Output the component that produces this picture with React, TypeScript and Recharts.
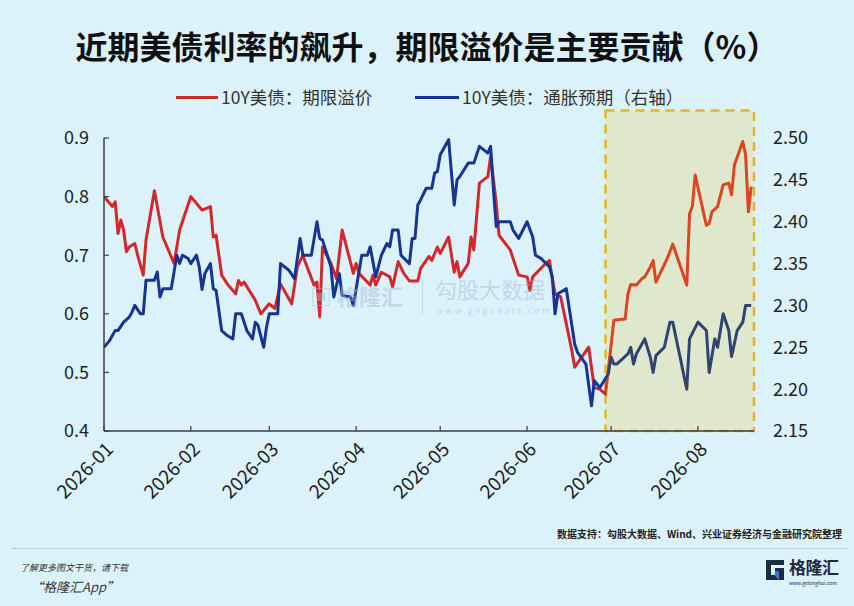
import { LineChart, Line, XAxis, YAxis, ReferenceArea } from "recharts";

const YEAR = 2026;

// month ticks on the x axis
const monthLabels = ["2026-01", "2026-02", "2026-03", "2026-04", "2026-05", "2026-06", "2026-07", "2026-08"];

// 10Y美债：期限溢价 (left axis)
const premiumDates = [
    "01-01", "01-04", "01-05", "01-06", "01-07", "01-08", "01-09", "01-10", "01-12", "01-13",
    "01-15", "01-16", "01-19", "01-22", "01-26", "01-28", "02-01", "02-05", "02-08", "02-09",
    "02-10", "02-12", "02-14", "02-17", "02-18", "02-19", "02-20", "02-24", "02-26", "03-01",
    "03-03", "03-05", "03-09", "03-11", "03-13", "03-14", "03-17", "03-18", "03-19", "03-20",
    "03-23", "03-25", "03-27", "03-31", "04-01", "04-02", "04-06", "04-07", "04-08", "04-10",
    "04-13", "04-14", "04-16", "04-18", "04-20", "04-23", "04-24", "04-27", "04-28", "04-30",
    "05-01", "05-04", "05-06", "05-07", "05-08", "05-11", "05-12", "05-13", "05-15", "05-18",
    "05-19", "05-21", "05-22", "05-26", "05-29", "06-01", "06-02", "06-03", "06-07", "06-09",
    "06-10", "06-11", "06-13", "06-15", "06-17", "06-18", "06-23", "06-25", "06-27", "06-29",
    "07-02", "07-06", "07-07", "07-08", "07-10", "07-12", "07-13", "07-15", "07-16", "07-17",
    "07-19", "07-21", "07-23", "07-28", "07-29", "07-30", "07-31", "08-04", "08-05", "08-06",
    "08-08", "08-10", "08-12", "08-13", "08-14", "08-17", "08-18", "08-19", "08-20",
];
const premiumValues = [
    0.8, 0.783, 0.791, 0.737, 0.76, 0.743, 0.706, 0.714, 0.72, 0.7,
    0.666, 0.726, 0.81, 0.731, 0.686, 0.743, 0.8, 0.777, 0.783, 0.731,
    0.734, 0.666, 0.651, 0.634, 0.657, 0.649, 0.654, 0.623, 0.6, 0.617,
    0.609, 0.651, 0.617, 0.68, 0.7, 0.686, 0.649, 0.654, 0.595, 0.714,
    0.686, 0.66, 0.743, 0.669, 0.686, 0.669, 0.649, 0.666, 0.649, 0.671,
    0.663, 0.646, 0.689, 0.669, 0.656, 0.656, 0.677, 0.698, 0.691, 0.714,
    0.703, 0.731, 0.671, 0.689, 0.663, 0.686, 0.731, 0.709, 0.823, 0.834,
    0.869, 0.789, 0.734, 0.709, 0.666, 0.663, 0.64, 0.663, 0.683, 0.691,
    0.66, 0.634, 0.629, 0.583, 0.537, 0.509, 0.543, 0.474, 0.471, 0.463,
    0.589, 0.591, 0.634, 0.65, 0.649, 0.66, 0.663, 0.68, 0.691, 0.654,
    0.674, 0.694, 0.719, 0.649, 0.771, 0.783, 0.837, 0.751, 0.754, 0.774,
    0.783, 0.82, 0.823, 0.803, 0.854, 0.894, 0.871, 0.774, 0.817,
];

// 10Y美债：通胀预期 (right axis)
const inflationDates = [
    "01-01", "01-03", "01-05", "01-06", "01-08", "01-10", "01-11", "01-12", "01-14", "01-15",
    "01-16", "01-19", "01-20", "01-21", "01-22", "01-25", "01-27", "01-28", "01-29", "01-31",
    "02-01", "02-03", "02-04", "02-05", "02-06", "02-08", "02-09", "02-10", "02-12", "02-14",
    "02-16", "02-17", "02-19", "02-21", "02-23", "02-24", "02-25", "02-27", "02-28", "03-01",
    "03-04", "03-05", "03-08", "03-10", "03-12", "03-13", "03-16", "03-18", "03-19", "03-20",
    "03-23", "03-24", "03-26", "03-27", "03-30", "03-31", "04-03", "04-05", "04-06", "04-08",
    "04-10", "04-12", "04-13", "04-14", "04-16", "04-17", "04-20", "04-21", "04-22", "04-23",
    "04-24", "04-26", "04-28", "04-29", "04-30", "05-01", "05-04", "05-06", "05-07", "05-08",
    "05-11", "05-13", "05-15", "05-18", "05-19", "05-20", "05-21", "05-22", "05-26", "05-27",
    "05-29", "06-01", "06-03", "06-04", "06-06", "06-09", "06-10", "06-11", "06-12", "06-15",
    "06-18", "06-19", "06-22", "06-24", "06-25", "06-27", "06-30", "07-01", "07-02", "07-03",
    "07-07", "07-08", "07-09", "07-10", "07-13", "07-15", "07-16", "07-17", "07-20", "07-22",
    "07-23", "07-28", "07-29", "08-01", "08-04", "08-05", "08-07", "08-08", "08-10", "08-12",
    "08-13", "08-15", "08-17", "08-18", "08-20",
];
const inflationValues = [
    2.25, 2.258, 2.27, 2.27, 2.28, 2.286, 2.292, 2.3, 2.29, 2.29,
    2.33, 2.33, 2.34, 2.31, 2.32, 2.32, 2.36, 2.35, 2.36, 2.356,
    2.35, 2.36, 2.346, 2.319, 2.338, 2.35, 2.32, 2.318, 2.27, 2.264,
    2.26, 2.29, 2.29, 2.27, 2.26, 2.28, 2.276, 2.25, 2.274, 2.29,
    2.29, 2.35, 2.342, 2.332, 2.38, 2.36, 2.36, 2.4, 2.38, 2.378,
    2.346, 2.31, 2.338, 2.312, 2.31, 2.3, 2.36, 2.36, 2.37, 2.334,
    2.36, 2.374, 2.37, 2.39, 2.39, 2.36, 2.35, 2.38, 2.38, 2.42,
    2.426, 2.44, 2.44, 2.458, 2.46, 2.48, 2.498, 2.42, 2.45, 2.454,
    2.47, 2.47, 2.49, 2.482, 2.49, 2.438, 2.394, 2.4, 2.4, 2.39,
    2.38, 2.4, 2.382, 2.36, 2.356, 2.346, 2.334, 2.29, 2.314, 2.32,
    2.254, 2.244, 2.23, 2.18, 2.21, 2.202, 2.218, 2.238, 2.23, 2.23,
    2.242, 2.25, 2.23, 2.242, 2.26, 2.238, 2.22, 2.24, 2.25, 2.28,
    2.28, 2.2, 2.26, 2.28, 2.27, 2.22, 2.26, 2.25, 2.29, 2.27,
    2.239, 2.27, 2.28, 2.3, 2.3,
];

const leftTicks = [0.4, 0.5, 0.6, 0.7, 0.8, 0.9];
const rightTicks = [2.15, 2.2, 2.25, 2.3, 2.35, 2.4, 2.45, 2.5];

// highlighted window
const highlightStart = "06-29";
const highlightEnd = "08-21";

const toDay = (md: string) => {
    const [m, d] = md.split("-").map(Number);
    return (Date.UTC(YEAR, m - 1, d) - Date.UTC(YEAR, 0, 1)) / 86400000;
};

const premiumData = premiumDates.map((d, i) => ({ t: toDay(d), v: premiumValues[i] }));
const inflationData = inflationDates.map((d, i) => ({ t: toDay(d), v: inflationValues[i] }));
const monthTicks = monthLabels.map((m) => toDay(m.slice(5) + "-01"));

const FONT = "'Noto Sans CJK SC', 'Noto Sans', sans-serif";
const RED = "#d3282b";
const RED_HL = "#d9461f";
const NAVY = "#183493";
const NAVY_HL = "#2f4470";

// chart geometry
const W = 854;
const PLOT_LEFT = 104;
const PLOT_W = 650;
// where the highlight starts, as a fraction of the svg width (for stroke colour switch)
const splitAt = (PLOT_LEFT + (toDay(highlightStart) / toDay(highlightEnd)) * PLOT_W) / W;

const XTick = ({ x, y, payload }: any) => {
    const i = monthTicks.indexOf(payload.value);
    return (
        <text
            x={x - 2}
            y={y}
            transform={`rotate(-45 ${x - 2} ${y})`}
            textAnchor="end"
            dominantBaseline="hanging"
            fontSize={19}
            fill="#222"
            fontFamily={FONT}
        >
            {monthLabels[i]}
        </text>
    );
};

const GIcon = () => (
    <svg width={22} height={24} viewBox="0 0 22 24">
        <path d="M2 2 H20 V7 H7 V17 H15 V13 H11 V10 H20 V22 H2 Z" fill="#1d2a44" />
        <path d="M11 13 H15 V22 L11 18 Z" fill="#2d7be0" />
    </svg>
);

export default function App() {
    return (
        <div
            style={{
                position: "absolute",
                left: 0,
                top: 0,
                width: W,
                height: 606,
                background: "#dcf2fb",
                fontFamily: FONT,
                overflow: "hidden",
            }}
        >
            <div
                style={{
                    position: "absolute",
                    top: 27,
                    left: 0,
                    width: W,
                    textAlign: "center",
                    fontSize: 32,
                    fontWeight: 700,
                    lineHeight: "36px",
                    color: "#111",
                }}
            >
                近期美债利率的飙升，期限溢价是主要贡献（%）
            </div>

            {/* legend */}
            <div style={{ position: "absolute", top: 86, left: 0, width: W, height: 22, fontSize: 17.5, color: "#333" }}>
                <div style={{ position: "absolute", left: 176, top: 10, width: 42, height: 3, background: RED }} />
                <div style={{ position: "absolute", left: 221, top: 0, lineHeight: "22px", whiteSpace: "nowrap" }}>10Y美债：期限溢价</div>
                <div style={{ position: "absolute", left: 415, top: 10, width: 44, height: 3, background: NAVY }} />
                <div style={{ position: "absolute", left: 462, top: 0, lineHeight: "22px", whiteSpace: "nowrap" }}>10Y美债：通胀预期（右轴）</div>
            </div>

            <div style={{ position: "absolute", left: 0, top: 0 }}>
                <LineChart width={W} height={520} margin={{ top: 138, right: 40, bottom: 0, left: 64 }}>
                    <defs>
                        <linearGradient id="redStroke" gradientUnits="userSpaceOnUse" x1={0} y1={0} x2={W} y2={0}>
                            <stop offset={splitAt} stopColor={RED} />
                            <stop offset={splitAt} stopColor={RED_HL} />
                        </linearGradient>
                        <linearGradient id="navyStroke" gradientUnits="userSpaceOnUse" x1={0} y1={0} x2={W} y2={0}>
                            <stop offset={splitAt} stopColor={NAVY} />
                            <stop offset={splitAt} stopColor={NAVY_HL} />
                        </linearGradient>
                    </defs>
                    <XAxis
                        dataKey="t"
                        type="number"
                        domain={[0, toDay(highlightEnd)]}
                        ticks={monthTicks}
                        interval={0}
                        allowDataOverflow
                        height={89}
                        tickSize={-5}
                        tickMargin={12}
                        tick={<XTick />}
                        axisLine={{ stroke: "#3c3c3c", strokeWidth: 1.5 }}
                        tickLine={{ stroke: "#3c3c3c", strokeWidth: 1.2 }}
                    />
                    <YAxis
                        yAxisId="left"
                        domain={[0.4, 0.9]}
                        ticks={leftTicks}
                        width={40}
                        tickSize={-5}
                        tickMargin={20}
                        tickFormatter={(v: number) => v.toFixed(1)}
                        tick={{ fontSize: 18, fill: "#222", fontFamily: FONT }}
                        axisLine={{ stroke: "#3c3c3c", strokeWidth: 1.5 }}
                        tickLine={{ stroke: "#3c3c3c", strokeWidth: 1.2 }}
                    />
                    <YAxis
                        yAxisId="right"
                        orientation="right"
                        domain={[2.15, 2.5]}
                        ticks={rightTicks}
                        width={60}
                        tickMargin={13}
                        tickFormatter={(v: number) => v.toFixed(2)}
                        tick={{ fontSize: 18, fill: "#222", fontFamily: FONT }}
                        axisLine={false}
                        tickLine={false}
                    />
                    <ReferenceArea
                        yAxisId="left"
                        x1={toDay(highlightStart)}
                        x2={toDay(highlightEnd)}
                        y1={0.4}
                        y2={0.947}
                        ifOverflow="visible"
                        fill="#dfe8cc"
                        fillOpacity={1}
                        stroke="#e3b622"
                        strokeWidth={2.5}
                        strokeDasharray="9 6"
                    />
                    <Line
                        yAxisId="left"
                        data={premiumData}
                        dataKey="v"
                        type="linear"
                        stroke="url(#redStroke)"
                        strokeWidth={3}
                        dot={false}
                        strokeLinejoin="round"
                        isAnimationActive={false}
                    />
                    <Line
                        yAxisId="right"
                        data={inflationData}
                        dataKey="v"
                        type="linear"
                        stroke="url(#navyStroke)"
                        strokeWidth={3}
                        dot={false}
                        strokeLinejoin="round"
                        isAnimationActive={false}
                    />
                </LineChart>
            </div>

            {/* watermark */}
            <div style={{ position: "absolute", left: 310, top: 276, opacity: 0.45, pointerEvents: "none", color: "#9fb9d3" }}>
                <div style={{ position: "absolute", left: 0, top: 6, fontSize: 22, lineHeight: "26px", fontWeight: 700, whiteSpace: "nowrap" }}>▣ 格隆汇</div>
                <div style={{ position: "absolute", left: 112, top: 2, width: 1, height: 36, background: "#9fb9d3" }} />
                <div style={{ position: "absolute", left: 125, top: 0, fontSize: 22, whiteSpace: "nowrap", lineHeight: "24px" }}>勾股大数据</div>
                <div style={{ position: "absolute", left: 126, top: 30, fontSize: 9, lineHeight: "10px", letterSpacing: 2, whiteSpace: "nowrap" }}>www.gogudata.com</div>
            </div>

            {/* footer */}
            <div style={{ position: "absolute", right: 12, top: 526, fontSize: 10, fontWeight: 700, color: "#222", whiteSpace: "nowrap" }}>
                数据支持：勾股大数据、Wind、兴业证券经济与金融研究院整理
            </div>
            <div style={{ position: "absolute", left: 12, top: 548, width: 836, borderTop: "1.5px dotted #a9b4ba" }} />
            <div style={{ position: "absolute", left: 20, top: 561, fontSize: 9, fontStyle: "italic", color: "#333", whiteSpace: "nowrap" }}>
                了解更多图文干货，请下载
            </div>
            <div style={{ position: "absolute", left: 30, top: 577, fontSize: 13, fontStyle: "italic", color: "#333", whiteSpace: "nowrap" }}>
                “格隆汇App”
            </div>
            <div style={{ position: "absolute", left: 764, top: 558, display: "flex", alignItems: "flex-start" }}>
                <GIcon />
                <div style={{ marginLeft: 3 }}>
                    <div style={{ fontSize: 17, lineHeight: "18px", fontWeight: 700, color: "#1d2a44", letterSpacing: -0.5 }}>格隆汇</div>
                    <div style={{ fontSize: 5, lineHeight: "6px", color: "#1d2a44", marginTop: 4 }}>www.gelonghui.com</div>
                </div>
            </div>
        </div>
    );
}
